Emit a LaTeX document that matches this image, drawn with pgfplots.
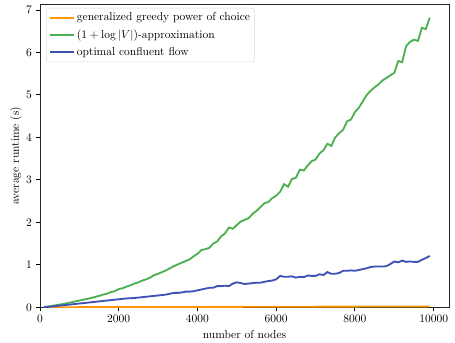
\documentclass[border=0pt]{standalone}
\usepackage{pgfplots}
\pgfplotsset{compat=1.18}
\definecolor{cOr}{HTML}{FF9800}
\definecolor{cGr}{HTML}{4CAF50}
\definecolor{cBl}{HTML}{3F51B5}
\begin{document}
\begin{tikzpicture}
\begin{axis}[
  scale only axis, width=356pt, height=264pt,
  xmin=0, xmax=10390, ymin=0, ymax=7.14,
  xtick={0,2000,4000,6000,8000,10000},
  ytick={0,1,2,3,4,5,6,7},
  scaled x ticks=false,
  xticklabel style={/pgf/number format/1000 sep={}},
  tick align=outside, major tick length=3.5pt,
  tick style={black, line width=0.8pt},
  axis line style={line width=0.8pt, black!85},
  xtick pos=bottom, ytick pos=left,
  xlabel={number of nodes}, ylabel={average runtime (s)},
  ylabel style={yshift=-3pt},
  legend style={draw=black!15, rounded corners=2pt, font=\normalsize, at={(0.015,0.987)}, anchor=north west, inner xsep=2pt, inner ysep=2pt, row sep=2.3pt},
  legend cell align=left,
  legend image code/.code={\draw[#1, line width=1.6pt] (0pt,0pt) -- (21pt,0pt);},
]
\addplot[cOr, line width=1.6pt] coordinates {(100,0.003) (2000,0.006) (4000,0.01) (6000,0.014) (8000,0.018) (9900,0.022)};
\addlegendentry{generalized greedy power of choice}
\addplot[cGr, line width=1.6pt] coordinates {
(100,0.01) (200,0.02) (300,0.035) (400,0.05) (500,0.065) (600,0.08) (700,0.10) (800,0.12) (900,0.14) (1000,0.16)
(1100,0.18) (1200,0.20) (1300,0.22) (1400,0.245) (1500,0.27) (1600,0.30) (1700,0.32) (1800,0.36) (1900,0.38) (2000,0.43)
(2100,0.45) (2200,0.49) (2300,0.52) (2400,0.56) (2500,0.59) (2600,0.63) (2700,0.66) (2800,0.70) (2900,0.76) (3000,0.79)
(3100,0.83) (3200,0.87) (3300,0.92) (3400,0.97) (3500,1.01) (3600,1.05) (3700,1.09) (3800,1.13) (3900,1.20) (4000,1.26)
(4100,1.35) (4200,1.37) (4300,1.40) (4400,1.50) (4500,1.55) (4600,1.67) (4700,1.74) (4800,1.88) (4900,1.85) (5000,1.94)
(5100,2.02) (5200,2.06) (5300,2.10) (5400,2.20) (5500,2.27) (5600,2.36) (5700,2.45) (5800,2.48) (5900,2.57) (6000,2.63)
(6100,2.72) (6200,2.90) (6300,2.84) (6400,3.02) (6500,3.05) (6600,3.24) (6700,3.22) (6800,3.34) (6900,3.44) (7000,3.48)
(7100,3.62) (7200,3.70) (7300,3.85) (7400,3.80) (7500,4.00) (7600,4.10) (7700,4.18) (7800,4.38) (7900,4.42) (8000,4.60)
(8100,4.70) (8200,4.85) (8300,5.00) (8400,5.10) (8500,5.18) (8600,5.25) (8700,5.34) (8800,5.40) (8900,5.46) (9000,5.52)
(9100,5.80) (9200,5.77) (9300,6.15) (9400,6.25) (9500,6.30) (9600,6.27) (9700,6.58) (9800,6.55) (9900,6.82)};
\addlegendentry{$(1+\log|V|)$-approximation}
\addplot[cBl, line width=1.6pt] coordinates {
(100,0.005) (200,0.01) (300,0.02) (400,0.03) (500,0.04) (600,0.05) (700,0.06) (800,0.07) (900,0.08) (1000,0.09)
(1100,0.10) (1200,0.11) (1300,0.12) (1400,0.13) (1500,0.14) (1600,0.15) (1700,0.16) (1800,0.17) (1900,0.18) (2000,0.19)
(2100,0.20) (2200,0.21) (2300,0.215) (2400,0.22) (2500,0.23) (2600,0.24) (2700,0.25) (2800,0.26) (2900,0.27) (3000,0.28)
(3100,0.29) (3200,0.30) (3300,0.32) (3400,0.34) (3500,0.34) (3600,0.35) (3700,0.37) (3800,0.37) (3900,0.38) (4000,0.40)
(4100,0.42) (4200,0.44) (4300,0.46) (4400,0.46) (4500,0.50) (4600,0.50) (4700,0.51) (4800,0.50) (4900,0.56) (5000,0.59)
(5100,0.57) (5200,0.55) (5300,0.56) (5400,0.57) (5500,0.58) (5600,0.58) (5700,0.60) (5800,0.62) (5900,0.63) (6000,0.66)
(6100,0.74) (6200,0.72) (6300,0.72) (6400,0.73) (6500,0.70) (6600,0.72) (6700,0.71) (6800,0.75) (6900,0.74) (7000,0.74)
(7100,0.78) (7200,0.76) (7300,0.83) (7400,0.79) (7500,0.79) (7600,0.81) (7700,0.86) (7800,0.86) (7900,0.87) (8000,0.86)
(8100,0.88) (8200,0.90) (8300,0.92) (8400,0.95) (8500,0.96) (8600,0.96) (8700,0.96) (8800,0.97) (8900,1.02) (9000,1.08)
(9100,1.06) (9200,1.10) (9300,1.07) (9400,1.08) (9500,1.07) (9600,1.07) (9700,1.12) (9800,1.16) (9900,1.21)};
\addlegendentry{optimal confluent flow}
\end{axis}
\path (current axis.south west) ++(-34.8pt,-30.4pt);
\path (current axis.north east) ++(5.2pt,3.5pt);
\end{tikzpicture}
\end{document}
